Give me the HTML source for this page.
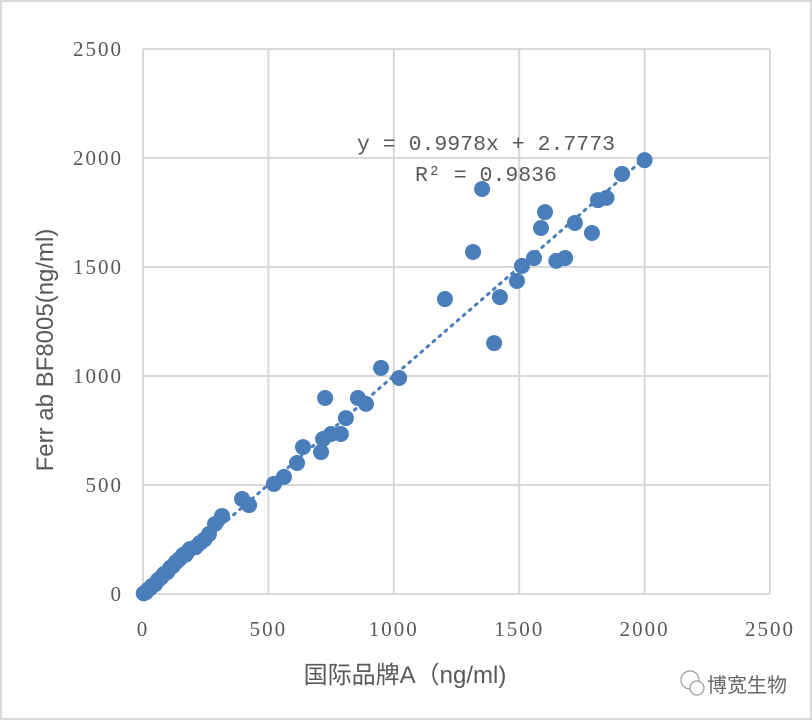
<!DOCTYPE html>
<html><head><meta charset="utf-8"><style>
html,body{margin:0;padding:0;background:#fff;}
#wrap{width:812px;height:720px;position:relative;overflow:hidden;}
</style></head><body>
<div id="wrap">
<svg id="chart" width="812" height="720" xmlns="http://www.w3.org/2000/svg">
<rect x="1" y="1" width="810" height="718" fill="#fff" stroke="#d9d9d9" stroke-width="2"/>
<g id="grid"></g><g id="ticks"></g><g id="trend"></g><g id="pts"></g>
<text x="486" y="150" font-family="Liberation Mono, monospace" font-size="21.5" fill="#595959" text-anchor="middle" xml:space="preserve">y = 0.9978x + 2.7773</text>
<text x="486" y="181" font-family="Liberation Mono, monospace" font-size="21.5" fill="#595959" text-anchor="middle" xml:space="preserve">R² = 0.9836</text>
<text x="405" y="683" font-family="Liberation Sans, 'Noto Sans CJK SC', sans-serif" font-size="24" fill="#595959" text-anchor="middle">国际品牌A（ng/ml)</text>
<text transform="translate(53,350) rotate(-90)" font-family="Liberation Sans, sans-serif" font-size="24" fill="#595959" text-anchor="middle">Ferr ab BF8005(ng/ml)</text>
<g>
<circle cx="690" cy="680" r="9" fill="none" stroke="#999" stroke-width="1.2"/>
<circle cx="697" cy="688" r="7" fill="#fff" stroke="#999" stroke-width="1.2"/>
<text x="707" y="692" font-family="'Noto Sans CJK SC', sans-serif" font-size="20" fill="#666">博宽生物</text>
</g>
</svg>
</div>
<script>
const xTicks=[0,500,1000,1500,2000,2500];
const yTicks=[0,500,1000,1500,2000,2500];
const xVals=[2000,1910,1848,1814,1790,1722,1683,1648,1603,1587,1559,1511,1491,1423,1400,1352,1316,1204,1021,949,889,857,809,789,750,726,718,710,638,614,562,522,423,395,315,287,263,227,187,159,132,108,84,60,36,12,3,20,30,48,72,96,120,145,170,175,210,245];
const yVals=[1990,1927,1817,1807,1656,1702,1541,1528,1752,1679,1541,1505,1436,1362,1151,1858,1569,1353,991,1037,872,899,807,734,734,899,711,651,674,601,537,505,408,436,358,321,275,234,206,179,147,119,92,64,37,9,3,20,28,45,75,100,130,160,180,190,215,250];
const slope=0.9978, intercept=2.7773;
const X0=143,X1=770,Y0=594,Y1=49;
const sx=v=>X0+(v/2500)*(X1-X0);
const sy=v=>Y0-(v/2500)*(Y0-Y1);
const NS='http://www.w3.org/2000/svg';
function mk(t,a,p){const e=document.createElementNS(NS,t);for(const k in a)e.setAttribute(k,a[k]);p.appendChild(e);return e;}
const grid=document.getElementById('grid'),ticks=document.getElementById('ticks');
xTicks.forEach(v=>{
 const l=mk('line',{x1:sx(v),x2:sx(v),y1:Y1,y2:Y0,stroke:'#d9d9d9','stroke-width':2},grid);
 
 
 const t=mk('text',{x:sx(v),y:Y0+42,'text-anchor':'middle','font-family':'Liberation Serif, serif','font-size':21,'letter-spacing':2,fill:'#595959'},ticks);
 t.textContent=v;
 
 
});
yTicks.forEach(v=>{
 const l=mk('line',{x1:X0,x2:X1,y1:sy(v),y2:sy(v),stroke:'#d9d9d9','stroke-width':2},grid);
 
 
 const t=mk('text',{x:X0-20,y:sy(v)+7,'text-anchor':'end','font-family':'Liberation Serif, serif','font-size':21,'letter-spacing':2,fill:'#595959'},ticks);
 t.textContent=v;
 
 
});
const tr=mk('line',{x1:sx(0),y1:sy(intercept),x2:sx(2000),y2:sy(slope*2000+intercept),stroke:'#4a7ebb','stroke-width':3,'stroke-dasharray':'2 6','stroke-linecap':'round'},document.getElementById('trend'));


const pts=document.getElementById('pts');
xVals.forEach((v,i)=>{
 const c=mk('circle',{cx:sx(v),cy:sy(yVals[i]),r:8,fill:'#4a7ebb'},pts);
 
 
});
</script>
</body></html>
